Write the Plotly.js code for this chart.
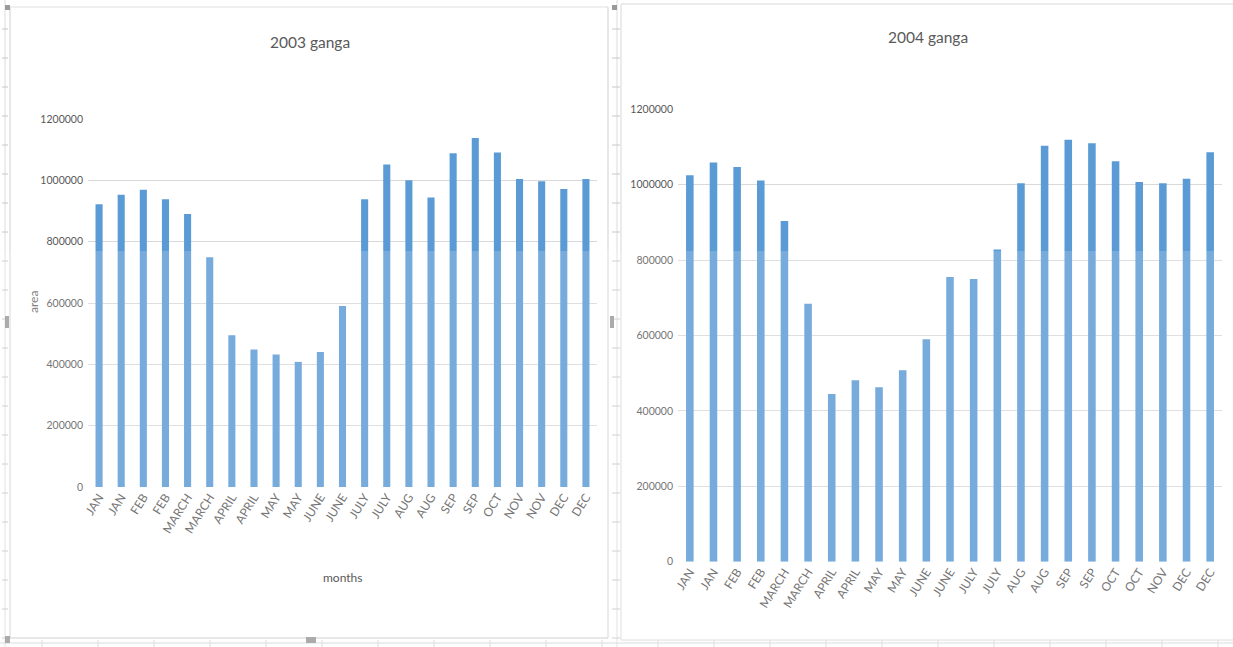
<!DOCTYPE html>
<html>
<head>
<meta charset="utf-8">
<script src="https://cdn.plot.ly/plotly-3.0.1.min.js"></script>
<style>
  html, body { margin: 0; padding: 0; background: #ffffff; }
  #chart { width: 1233px; height: 647px; }
</style>
</head>
<body>
<div id="chart"></div>
<script>
// Monthly ganga area, two readings per month
const labels2003 = ["JAN","JAN","FEB","FEB","MARCH","MARCH","APRIL","APRIL","MAY","MAY","JUNE","JUNE","JULY","JULY","AUG","AUG","SEP","SEP","OCT","NOV","NOV","DEC","DEC"];
const area2003 = [922000, 953000, 969000, 938000, 890000, 749000, 495000, 448000, 432000, 408000, 440000, 590000, 938000, 1052000, 1000000, 944000, 1088000, 1138000, 1091000, 1004000, 997000, 972000, 1004000];

const labels2004 = ["JAN","JAN","FEB","FEB","MARCH","MARCH","APRIL","APRIL","MAY","MAY","JUNE","JUNE","JULY","JULY","AUG","AUG","SEP","SEP","OCT","OCT","NOV","DEC","DEC"];
const area2004 = [1025000, 1059000, 1047000, 1011000, 904000, 684000, 445000, 481000, 463000, 508000, 590000, 755000, 750000, 828000, 1004000, 1103000, 1119000, 1110000, 1062000, 1007000, 1004000, 1016000, 1086000];

const yTicks = [0, 200000, 400000, 600000, 800000, 1000000, 1200000];

const W = 1233, H = 647;
const px = v => v / W;           // pixel x -> paper
const py = v => (H - v) / H;     // pixel y -> paper

const BLUE = '#5b9bd5';
const TXT = '#595959';
const GRID = '#d9d9d9';
const FONT = 'Lato, "Open Sans", sans-serif';

const idx = a => a.map((_, i) => i);

const traces = [
  { type: 'bar', x: idx(area2003), y: area2003, xaxis: 'x', yaxis: 'y',
    marker: { color: BLUE }, hoverinfo: 'skip', showlegend: false },
  { type: 'bar', x: idx(area2004), y: area2004, xaxis: 'x2', yaxis: 'y2',
    marker: { color: BLUE }, hoverinfo: 'skip', showlegend: false }
];

function xAxis(domain, labels, anchor) {
  return {
    domain: domain, anchor: anchor, range: [-0.5, labels.length - 0.5],
    tickmode: 'array', tickvals: idx(labels), ticktext: labels,
    tickangle: -58, tickfont: { family: FONT, size: 12, color: TXT },
    showgrid: false, zeroline: false, showline: false, ticks: '',
    automargin: false, fixedrange: true
  };
}
function yAxis(domain, anchor) {
  return {
    domain: domain, anchor: anchor, range: [0, 1200000],
    tickmode: 'array', tickvals: yTicks, ticktext: yTicks.map(String),
    tickfont: { family: FONT, size: 10.5, color: TXT },
    showgrid: true, gridcolor: GRID, gridwidth: 1,
    zeroline: false, showline: false, ticks: '', ticklabelstandoff: 4,
    automargin: false, fixedrange: true
  };
}

const shapes = [];
const line = (x0, y0, x1, y1, color, w) => shapes.push({
  type: 'line', xref: 'paper', yref: 'paper',
  x0: px(x0), y0: py(y0), x1: px(x1), y1: py(y1),
  line: { color: color || '#d0d0d0', width: w || 1 }, layer: 'below'
});
const box = (x0, y0, x1, y1, fill) => shapes.push({
  type: 'rect', xref: 'paper', yref: 'paper',
  x0: px(x0), y0: py(y0), x1: px(x1), y1: py(y1),
  line: { width: 0 }, fillcolor: fill, layer: 'above'
});

// worksheet row lines along the left edge and between the two charts
line(5, 0, 5, 647, '#dcdcdc');
line(617, 0, 617, 647, '#dcdcdc');
for (let y = 29; y < 647; y += 29) {
  line(2, y, 8, y, '#c8c8c8');
  line(612, y, 620, y, '#c8c8c8');
}
// worksheet column ticks along the bottom
line(0, 643, 1233, 643, '#d6d6d6');
for (let x = 42; x < 1233; x += 56) line(x, 640, x, 647, '#d6d6d6');

// chart frames
line(10, 7, 10, 638, '#d0d0d0');
line(10, 7, 608, 7, '#e0e0e0');
line(608, 7, 608, 638, '#d0d0d0');
line(10, 638, 608, 638, '#c8c8c8');
line(621, 4, 621, 640, '#d8d8d8');
line(621, 4, 1233, 4, '#d8d8d8');
line(621, 640, 1233, 640, '#d8d8d8');

// selection handles on the left chart
box(5, 5, 10, 10, '#9a9a9a');
box(612, 5, 617, 10, '#9a9a9a');
box(5, 316, 9, 328, '#9a9a9a');
box(610, 316, 614, 328, '#9a9a9a');
box(5, 636, 10, 643, '#9a9a9a');
box(306, 637, 316, 643, '#9a9a9a');

// lighter lower band of the rendered sheet
shapes.push({
  type: 'rect', xref: 'paper', yref: 'paper',
  x0: 0, x1: 1, y0: 0, y1: py(251),
  line: { width: 0 }, fillcolor: 'rgba(255,255,255,0.17)', layer: 'above'
});

const note = (text, x, y, size, color, angle) => ({
  text: text, x: px(x), y: py(y), xref: 'paper', yref: 'paper',
  xanchor: 'center', yanchor: 'middle', showarrow: false,
  textangle: angle || 0, font: { family: FONT, size: size, color: color }
});

const annotations = [
  note('2003 ganga', 310, 42, 15.5, TXT),
  note('2004 ganga', 928, 37, 15.5, TXT),
  note('area', 33, 302, 12, '#7f7f7f', -90),
  note('months', 342, 577, 12, TXT)
];

const layout = {
  width: W, height: H,
  margin: { l: 0, r: 0, t: 0, b: 0 },
  paper_bgcolor: '#ffffff', plot_bgcolor: 'rgba(0,0,0,0)',
  bargap: 0.68,
  xaxis: xAxis([px(88), px(597)], labels2003, 'y'),
  yaxis: yAxis([py(487), py(119)], 'x'),
  xaxis2: xAxis([px(678), px(1222)], labels2004, 'y2'),
  yaxis2: yAxis([py(561.7), py(109.3)], 'x2'),
  shapes: shapes,
  annotations: annotations
};

Plotly.newPlot('chart', traces, layout, { displayModeBar: false, staticPlot: true });
</script>
</body>
</html>
